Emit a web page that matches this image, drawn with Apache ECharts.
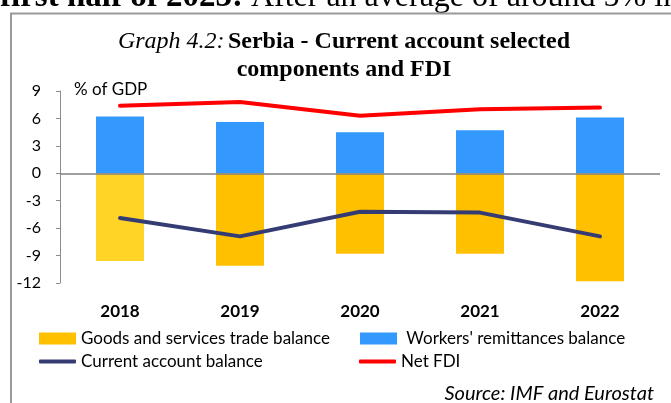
<!DOCTYPE html>
<html>
<head>
<meta charset="utf-8">
<script src="https://cdn.jsdelivr.net/npm/echarts@6/dist/echarts.min.js"></script>
<style>
  html, body { margin: 0; padding: 0; background: #ffffff; }
  #charts { width: 671px; height: 403px; }
</style>
</head>
<body>
<div id="charts"></div>
<script>
/* data, % of GDP */
let years = ["2018", "2019", "2020", "2021", "2022"];
let tradeBalance = [-9.6, -10.1, -8.8, -8.8, -11.8];
let remittances = [6.2, 5.6, 4.5, 4.7, 6.1];
let currentAccount = [-4.9, -6.9, -4.2, -4.3, -6.9];
let netFdi = [7.4, 7.8, 6.3, 7.0, 7.2];

let calibri = "Lato, 'Open Sans', sans-serif";
let times = "'Liberation Serif', 'DejaVu Serif', serif";

/* one small legend per item, laid out in two columns */
function legendItem(name, left, top, icon, h, pre) {
  return {
    data: [name],
    left: left,
    top: top,
    icon: icon,
    itemWidth: 37,
    itemHeight: h,
    padding: 0,
    selectedMode: false,
    formatter: function (n) {
      return (pre || "") + n;
    },
    textStyle: { fontFamily: calibri, fontSize: 17, color: "#000" },
  };
}

let myChart = echarts.init(document.getElementById("charts"));
let option = {
  animation: false,
  backgroundColor: "#ffffff",
  grid: { left: 60, right: 11, top: 91, height: 192 },
  legend: [
    legendItem("Goods and services trade balance", 39, 330, "rect", 12),
    legendItem("Workers' remittances balance", 360, 330, "rect", 12, " "),
    legendItem("Current account balance", 39, 353, "roundRect", 4),
    legendItem("Net FDI", 359, 353, "roundRect", 4),
  ],
  xAxis: {
    type: "category",
    data: years,
    axisLine: { show: false },
    axisTick: { show: false },
    axisLabel: {
      margin: 20,
      fontFamily: calibri,
      fontSize: 17,
      fontWeight: "bold",
      color: "#000",
    },
  },
  yAxis: {
    type: "value",
    min: -12,
    max: 9,
    interval: 3,
    splitLine: { show: false },
    axisLine: { show: true, lineStyle: { color: "#8c8c8c", width: 1 } },
    axisTick: { show: true, length: 4, lineStyle: { color: "#8c8c8c" } },
    axisLabel: { margin: 19, fontFamily: calibri, fontSize: 16, color: "#000" },
  },
  series: [
    {
      name: "Goods and services trade balance",
      type: "bar",
      stack: "ca",
      barWidth: 48,
      itemStyle: { color: "#FFC000" },
      data: tradeBalance.map(function (v, i) {
        //first year drawn in a lighter yellow
        return i === 0 ? { value: v, itemStyle: { color: "#FFD426" } } : v;
      }),
      markLine: {
        silent: true,
        symbol: "none",
        label: { show: false },
        lineStyle: { color: "#808080", width: 1.5, type: "solid" },
        data: [{ yAxis: 0 }],
      },
    },
    {
      name: "Workers' remittances balance",
      type: "bar",
      stack: "ca",
      barWidth: 48,
      itemStyle: { color: "#3399FF" },
      data: remittances,
    },
    {
      name: "Current account balance",
      type: "line",
      data: currentAccount,
      showSymbol: false,
      symbol: "none",
      z: 5,
      itemStyle: { color: "#353C74" },
      lineStyle: { color: "#353C74", width: 4, cap: "round" },
    },
    {
      name: "Net FDI",
      type: "line",
      data: netFdi,
      showSymbol: false,
      symbol: "none",
      z: 5,
      itemStyle: { color: "#FF0000" },
      lineStyle: { color: "#FF0000", width: 4, cap: "round" },
    },
  ],
  graphic: [
    //text of the page above the box, cut by the top edge
    {
      type: "text",
      left: 0,
      top: -19,
      style: {
        text: "{b|first half of 2023:} After an average of around 5% in",
        font: "32px " + times,
        fill: "#000",
        rich: { b: { fontWeight: "bold", fontFamily: times, fontSize: 33 } },
      },
    },
    //box round the graph
    {
      type: "polyline",
      shape: { points: [[11, 403], [11, 13.5], [671, 13.5]] },
      style: { stroke: "#999999", lineWidth: 2, fill: null },
    },
    {
      type: "text",
      x: 344,
      y: 30,
      style: {
        text: "{i|Graph 4.2:} {b|Serbia - Current account selected}",
        align: "center",
        fill: "#000",
        rich: {
          i: { fontStyle: "italic", fontFamily: times, fontSize: 24 },
          b: { fontWeight: "bold", fontFamily: times, fontSize: 24 },
        },
      },
    },
    {
      type: "text",
      x: 344,
      y: 58,
      style: {
        text: "components and FDI",
        align: "center",
        fill: "#000",
        font: "bold 24px " + times,
      },
    },
    {
      type: "text",
      x: 74,
      y: 81,
      style: { text: "% of GDP", fill: "#000", font: "17px " + calibri },
    },
    {
      type: "text",
      x: 654,
      y: 384,
      style: {
        text: "Source: IMF and Eurostat",
        align: "right",
        fill: "#000",
        font: "italic 20px " + calibri,
      },
    },
  ],
};
myChart.setOption(option);
</script>
</body>
</html>
